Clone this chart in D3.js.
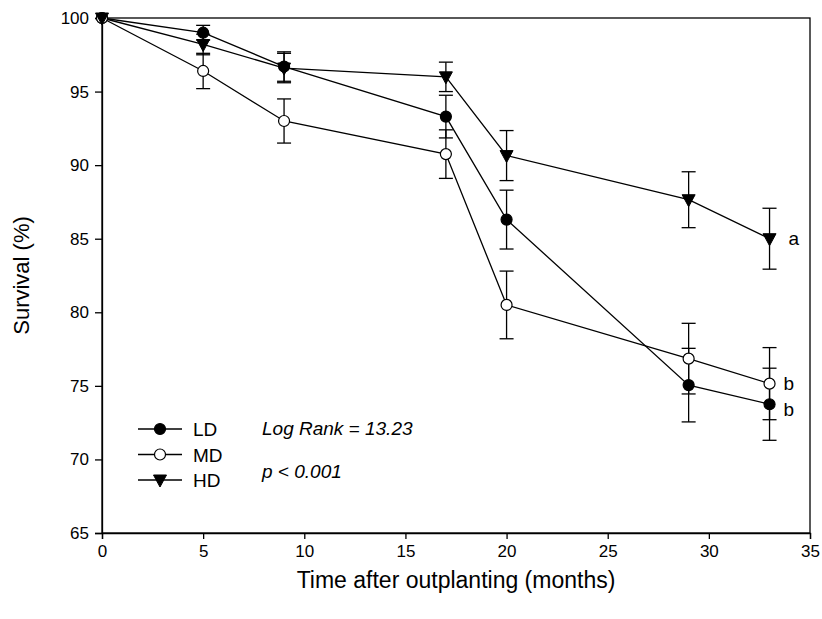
<!DOCTYPE html>
<html><head><meta charset="utf-8">
<script src="https://cdn.jsdelivr.net/npm/d3@7"></script>
<style>body{margin:0;background:#fff}svg{display:block;font-family:"Liberation Sans",Arial,sans-serif}</style>
</head><body><svg id="c" width="822" height="619"></svg>
<script>
const months = [0, 5, 9, 17, 20, 29, 33];
const ldValues = [100, 99.0, 96.7, 93.3, 86.3, 75.05, 73.75];
const ldErrors = [0, 0.5, 1.0, 1.45, 2.0, 2.5, 2.45];
const mdValues = [100, 96.4, 93.0, 90.75, 80.5, 76.85, 75.15];
const mdErrors = [0, 1.2, 1.5, 1.65, 2.3, 2.4, 2.45];
const hdValues = [100, 98.2, 96.6, 96.0, 90.65, 87.65, 85.0];
const hdErrors = [0, 0.7, 1.0, 1.0, 1.7, 1.9, 2.07];
const seriesNames = ["LD", "MD", "HD"];
const groupLetters = ["b", "b", "a"];
const xTicks = [0, 5, 10, 15, 20, 25, 30, 35];
const yTicks = [65, 70, 75, 80, 85, 90, 95, 100];

const svg = d3.select("#c");
const L = 102, R = 810, T = 18, B = 533;
const x = d3.scaleLinear().domain([0, 35]).range([L, R]);
const y = d3.scaleLinear().domain([65, 100]).range([B, T]);

svg.append("rect").attr("x", L).attr("y", T).attr("width", R - L).attr("height", B - T)
  .attr("fill", "none").attr("stroke", "#000").attr("stroke-width", 1.3);

const xa = svg.append("g").attr("transform", `translate(0,${B})`)
  .call(d3.axisBottom(x).tickValues(xTicks).tickSize(6).tickPadding(6).tickFormat(d3.format("d")));
const ya = svg.append("g").attr("transform", `translate(${L},0)`)
  .call(d3.axisLeft(y).tickValues(yTicks).tickSize(7).tickPadding(6).tickFormat(d3.format("d")));
[xa, ya].forEach(a => {
  a.select(".domain").attr("stroke", "#000").attr("stroke-width", 1.3);
  a.selectAll(".tick line").attr("stroke", "#000").attr("stroke-width", 1.3);
  a.selectAll(".tick text").attr("font-size", 17).attr("fill", "#000")
    .attr("font-family", '"Liberation Sans",Arial,sans-serif');
});

svg.append("text").attr("x", 456).attr("y", 588).attr("text-anchor", "middle")
  .attr("font-size", 23).text("Time after outplanting (months)");
svg.append("text").attr("transform", `translate(29,${(T + B) / 2}) rotate(-90)`)
  .attr("text-anchor", "middle").attr("font-size", 22).text("Survival (%)");

const series = [
  {name: seriesNames[0], vals: ldValues, errs: ldErrors, shape: "fill", lx: 14, ly: 12},
  {name: seriesNames[1], vals: mdValues, errs: mdErrors, shape: "open", lx: 14, ly: 6},
  {name: seriesNames[2], vals: hdValues, errs: hdErrors, shape: "tri", lx: 19, ly: 6}
];

const line = d3.line().x(d => x(d[0])).y(d => y(d[1]));
const cap = 7;
function marker(g, cx, cy, shape) {
  if (shape === "tri") {
    g.append("path").attr("d", `M${cx - 6.5},${cy - 5} L${cx + 6.5},${cy - 5} L${cx},${cy + 7} Z`)
      .attr("fill", "#000").attr("stroke", "#000").attr("stroke-width", 1);
  } else {
    g.append("circle").attr("cx", cx).attr("cy", cy).attr("r", 5.5)
      .attr("fill", shape === "fill" ? "#000" : "#fff").attr("stroke", "#000").attr("stroke-width", 1.2);
  }
}

series.forEach(s => {
  const g = svg.append("g").attr("stroke", "#000").attr("stroke-width", 1.3);
  months.forEach((m, i) => {
    const e = s.errs[i];
    if (!e) return;
    const cx = x(m);
    g.append("line").attr("x1", cx).attr("x2", cx).attr("y1", y(s.vals[i] + e)).attr("y2", y(s.vals[i] - e));
    [s.vals[i] + e, s.vals[i] - e].forEach(v => {
      g.append("line").attr("x1", cx - cap).attr("x2", cx + cap).attr("y1", y(v)).attr("y2", y(v));
    });
  });
});
series.forEach(s => {
  svg.append("path").datum(months.map((m, i) => [m, s.vals[i]])).attr("d", line)
    .attr("fill", "none").attr("stroke", "#000").attr("stroke-width", 1.3);
});
series.forEach(s => {
  const g = svg.append("g");
  months.forEach((m, i) => marker(g, x(m), y(s.vals[i]), s.shape));
});

series.forEach((s, k) => {
  const last = months.length - 1;
  svg.append("text").attr("x", x(months[last]) + s.lx).attr("y", y(s.vals[last]) + s.ly)
    .attr("font-size", 19).text(groupLetters[k]);
});

const legY = [429, 454.5, 480];
series.forEach((s, k) => {
  const g = svg.append("g");
  g.append("line").attr("x1", 138).attr("x2", 182).attr("y1", legY[k]).attr("y2", legY[k])
    .attr("stroke", "#000").attr("stroke-width", 1.3);
  marker(g, 160, legY[k], s.shape);
  g.append("text").attr("x", 193).attr("y", legY[k] + 7).attr("font-size", 19).text(s.name);
});
svg.append("text").attr("x", 262).attr("y", 435).attr("font-size", 19).attr("font-style", "italic")
  .text("Log Rank = 13.23");
svg.append("text").attr("x", 262).attr("y", 478).attr("font-size", 19).attr("font-style", "italic")
  .text("p < 0.001");
</script></body></html>
